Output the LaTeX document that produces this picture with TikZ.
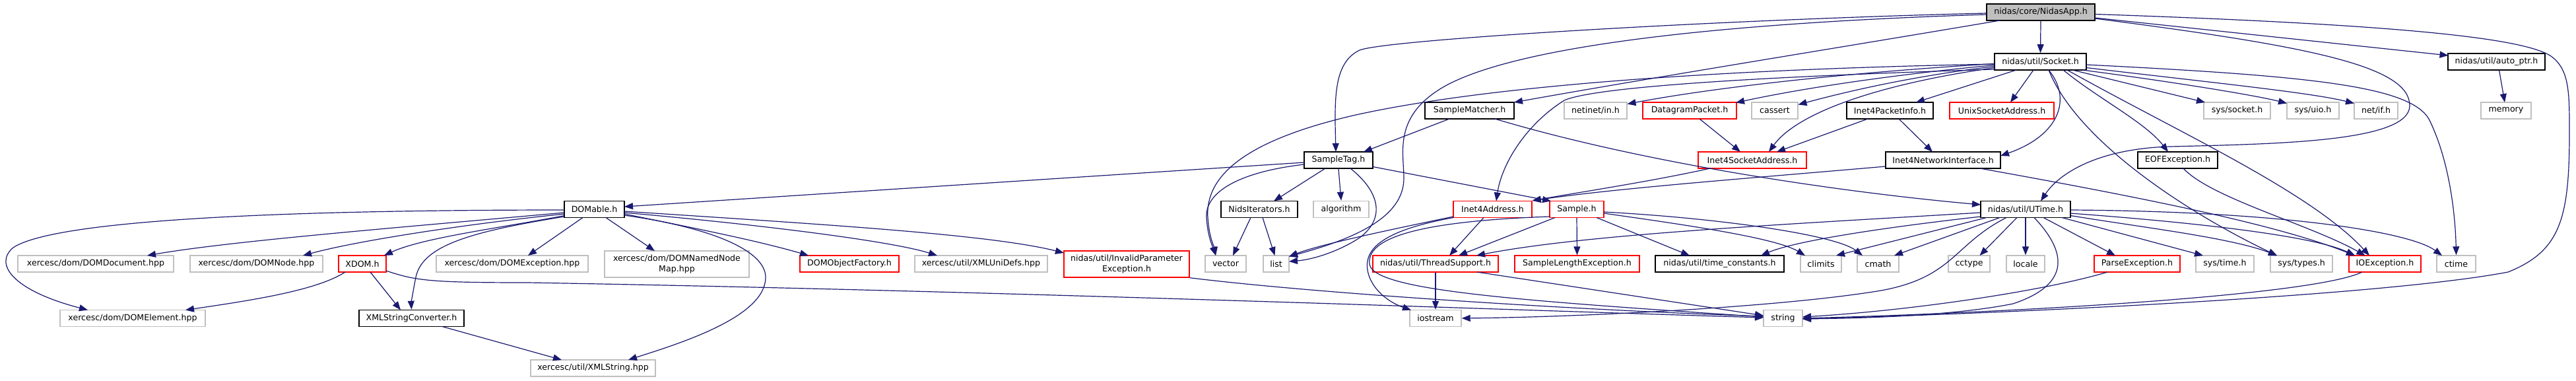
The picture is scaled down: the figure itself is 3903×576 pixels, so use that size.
\documentclass[tikz,border=0pt]{standalone}
\usepackage{fontspec}
\setmainfont{DejaVu Sans}
\usetikzlibrary{arrows.meta,calc}
\definecolor{edgec}{HTML}{191970}
\definecolor{grayb}{HTML}{BFBFBF}
\begin{document}
\begin{tikzpicture}[x=1pt,y=-1pt,
  box/.style={rectangle,inner sep=0pt,minimum height=25pt,fill=white,text=black,font=\fontsize{12.6}{14}\selectfont},
  doc/.style={box,draw=black,line width=1.6pt},
  ext/.style={box,draw=grayb,line width=1.4pt},
  trunc/.style={box,draw=red,line width=1.4pt},
  rootbox/.style={box,draw=black,fill=grayb,line width=1.6pt},
  tall/.style={minimum height=40pt,align=center,font=\fontsize{12.6}{15.5}\selectfont},
  e/.style={draw=edgec,line width=1.2pt,-{Triangle[length=13pt,width=10pt]}}]
\fill[white] (0,0) rectangle (3903,576);
\useasboundingbox (0,0) rectangle (3903,576);
% row 0
\node[rootbox,minimum width=164pt] (root) at (3092,18.5) {nidas/core/NidasApp.h};
% row 1
\node[doc,minimum width=139pt] (socket) at (3091.5,93.5) {nidas/util/Socket.h};
\node[doc,minimum width=147pt] (autoptr) at (3782.5,93.5) {nidas/util/auto\_ptr.h};
% row 2
\node[doc,minimum width=135pt] (matcher) at (2226.5,167.5) {SampleMatcher.h};
\node[ext,minimum width=95pt] (netinet) at (2417.5,167.5) {netinet/in.h};
\node[trunc,minimum width=142pt] (datagram) at (2560,167.5) {DatagramPacket.h};
\node[ext,minimum width=70pt] (cassert) at (2689,167.5) {cassert};
\node[doc,minimum width=131pt] (pktinfo) at (2863.5,167.5) {Inet4PacketInfo.h};
\node[trunc,minimum width=158pt] (unixsock) at (3033,167.5) {UnixSocketAddress.h};
\node[ext,minimum width=101pt] (syssocket) at (3389.5,167.5) {sys/socket.h};
\node[ext,minimum width=79pt] (sysuio) at (3504.5,167.5) {sys/uio.h};
\node[ext,minimum width=66pt] (netif) at (3600,167.5) {net/if.h};
\node[ext,minimum width=76pt] (memory) at (3797,167.5) {memory};
% row 3
\node[doc,minimum width=104pt] (sampletag) at (2028,242.5) {SampleTag.h};
\node[trunc,minimum width=164pt] (i4sock) at (2655,242.5) {Inet4SocketAddress.h};
\node[doc,minimum width=174pt] (i4ni) at (2944,242.5) {Inet4NetworkInterface.h};
\node[doc,minimum width=121pt] (eofex) at (3299.5,242.5) {EOFException.h};
% row 4
\node[doc,minimum width=91pt] (domable) at (900.5,317) {DOMable.h};
\node[doc,minimum width=116pt] (niter) at (1908,317) {NidsIterators.h};
\node[ext,minimum width=84pt] (algorithm) at (2032,317) {algorithm};
\node[trunc,minimum width=119pt] (i4addr) at (2261.5,317) {Inet4Address.h};
\node[trunc,minimum width=82pt] (sample) at (2389,317) {Sample.h};
\node[doc,minimum width=136pt] (utime) at (3069,317) {nidas/util/UTime.h};
% row 5
\node[ext,minimum width=236pt] (domdoc) at (145,399.5) {xercesc/dom/DOMDocument.hpp};
\node[ext,minimum width=201pt] (domnode) at (388.5,399.5) {xercesc/dom/DOMNode.hpp};
\node[trunc,minimum width=72pt] (xdom) at (549,399.5) {XDOM.h};
\node[ext,minimum width=230pt] (domexc) at (776,399.5) {xercesc/dom/DOMException.hpp};
\node[ext,tall,minimum width=219pt] (domnnm) at (1025.5,400) {xercesc/dom/DOMNamedNode\\Map.hpp};
\node[trunc,minimum width=150pt] (domof) at (1287,399.5) {DOMObjectFactory.h};
\node[ext,minimum width=201pt] (xmluni) at (1486.5,399.5) {xercesc/util/XMLUniDefs.hpp};
\node[trunc,tall,minimum width=190pt] (invparam) at (1707,400) {nidas/util/InvalidParameter\\Exception.h};
\node[ext,minimum width=62pt] (vector) at (1857,399.5) {vector};
\node[ext,minimum width=39pt] (list) at (1933.5,399.5) {list};
\node[trunc,minimum width=190pt] (threadsup) at (2175,399.5) {nidas/util/ThreadSupport.h};
\node[trunc,minimum width=189pt] (samplelen) at (2389.5,399.5) {SampleLengthException.h};
\node[doc,minimum width=195pt] (timeconst) at (2605.5,399.5) {nidas/util/time\_constants.h};
\node[ext,minimum width=62pt] (climits) at (2759,399.5) {climits};
\node[ext,minimum width=63pt] (cmath) at (2845.5,399.5) {cmath};
\node[ext,minimum width=63pt] (cctype) at (2983.5,399.5) {cctype};
\node[ext,minimum width=58pt] (locale) at (3069,399.5) {locale};
\node[trunc,minimum width=130pt] (parseex) at (3238,399.5) {ParseException.h};
\node[ext,minimum width=88pt] (systime) at (3371,399.5) {sys/time.h};
\node[ext,minimum width=94pt] (systypes) at (3487,399.5) {sys/types.h};
\node[trunc,minimum width=109pt] (ioex) at (3613.5,399.5) {IOException.h};
\node[ext,minimum width=59pt] (ctime) at (3721.5,399.5) {ctime};
% row 6
\node[ext,minimum width=220pt] (domelem) at (201,482) {xercesc/dom/DOMElement.hpp};
\node[doc,minimum width=159pt] (xmlsc) at (623.5,482) {XMLStringConverter.h};
\node[ext,minimum width=78pt] (iostream) at (2175,482) {iostream};
\node[ext,minimum width=59pt] (string) at (2701.5,482) {string};
% row 7
\node[ext,minimum width=189pt] (xmlstring) at (898.5,557.5) {xercesc/util/XMLString.hpp};

% ---- edges from NidasApp
\draw[e] (root.south) -- (socket.north);
\draw[e] ($(root)+(82,8.5)$) -- ($(autoptr)+(-73,-9.5)$);
\draw[e] ($(root)+(82,3)$) .. controls (3600,36) and (3820,55) .. (3865,85) .. controls (3893,105) and (3893,140) .. (3893,200) .. controls (3893,330) and (3880,380) .. (3800,412) .. controls (3600,450) and (3000,476) .. ($(string)+(29.5,1)$);
\draw[e] ($(root)+(82,9.5)$) .. controls (3500,70) and (3651,100) .. (3651,160) .. controls (3651,215) and (3450,218) .. (3288,222) .. controls (3180,225) and (3120,262) .. ($(utime)+(23,-12.5)$);
\draw[e] ($(root)+(-82,1.5)$) .. controls (2600,30) and (2100,60) .. (2060,76) .. controls (2020,95) and (2022,150) .. ($(sampletag)+(-4,-12.5)$);
\draw[e] ($(root)+(-82,3.5)$) .. controls (2600,35) and (2300,70) .. (2190,130) .. controls (2110,175) and (2127,230) .. (2127,270) .. controls (2127,330) and (2050,362) .. ($(list)+(19.5,-11)$);
\draw[e] ($(root)+(-62,12.5)$) .. controls (2800,70) and (2500,118) .. ($(matcher)+(67.5,-12.5)$);
% ---- edges from Socket
\draw[e] ($(socket)+(-69.5,3)$) .. controls (2800,110) and (2600,132) .. ($(netinet)+(48,-10)$);
\draw[e] ($(socket)+(-69.5,5)$) .. controls (2850,115) and (2720,136) .. ($(datagram)+(70,-12)$);
\draw[e] ($(socket)+(-69.5,7)$) .. controls (2900,115) and (2800,138) .. ($(cassert)+(35.5,-9)$);
\draw[e] ($(socket)+(-69.5,9)$) .. controls (2830,130) and (2720,175) .. ($(i4sock)+(25,-12.5)$);
\draw[e] ($(socket)+(-36.5,12.5)$) -- ($(pktinfo)+(39.5,-12.5)$);
\draw[e] ($(socket)+(-10.5,12.5)$) -- ($(unixsock)+(13,-12.5)$);
\draw[e] ($(socket)+(12.5,12.5)$) .. controls (3140,150) and (3120,205) .. ($(i4ni)+(87,-6.5)$);
\draw[e] ($(socket)+(48.5,12.5)$) -- ($(syssocket)+(-48.5,-12.5)$);
\draw[e] ($(socket)+(63.5,12.5)$) .. controls (3300,125) and (3420,145) .. ($(sysuio)+(-39.5,-11)$);
\draw[e] ($(socket)+(69.5,9)$) .. controls (3350,125) and (3500,140) .. ($(netif)+(-33,-11)$);
\draw[e] ($(socket)+(34.5,12.5)$) .. controls (3180,150) and (3250,185) .. ($(eofex)+(-14.5,-12.5)$);
\draw[e] ($(socket)+(69.5,4.5)$) .. controls (3500,115) and (3650,130) .. (3680,180) .. controls (3710,240) and (3720,320) .. (ctime.north);
\draw[e] ($(socket)+(12.5,12.5)$) .. controls (3150,220) and (3330,330) .. ($(systypes)+(-37,-12.5)$);
\draw[e] ($(socket)+(40.5,12.5)$) .. controls (3300,200) and (3500,290) .. ($(ioex)+(-23.5,-12.5)$);
\draw[e] ($(socket)+(-69.5,3.5)$) .. controls (2600,105) and (2250,130) .. (2050,175) .. controls (1900,210) and (1825,260) .. (1830,330) .. controls (1832,360) and (1840,375) .. ($(vector)+(-15,-12.5)$);
\draw[e] ($(socket)+(-69.5,11.5)$) .. controls (2700,115) and (2420,130) .. (2370,152) .. controls (2310,190) and (2275,250) .. ($(i4addr)+(5.5,-12.5)$);
% ---- SampleMatcher
\draw[e] ($(matcher)+(-30.5,12.5)$) -- ($(sampletag)+(38,-12.5)$);
\draw[e] ($(matcher)+(38.5,12.5)$) .. controls (2500,250) and (2800,292) .. ($(utime)+(-68,-7)$);
% ---- SampleTag
\draw[e] ($(sampletag)+(-52,3.5)$) -- ($(domable)+(45.5,-4)$);
\draw[e] ($(sampletag)+(-52,6.5)$) .. controls (1880,260) and (1825,290) .. (1828,330) .. controls (1830,360) and (1838,375) .. ($(vector)+(-15,-12.5)$);
\draw[e] ($(sampletag)+(18,12.5)$) .. controls (2090,290) and (2100,330) .. (2060,360) .. controls (2030,380) and (1990,393) .. ($(list)+(19.5,-3.5)$);
\draw[e] ($(sampletag)+(-20,12.5)$) -- ($(niter)+(22,-12.5)$);
\draw[e] (sampletag.south) -- (algorithm.north);
\draw[e] ($(sampletag)+(52,10)$) -- ($(sample)+(-39,-12.5)$);
% ---- NidsIterators
\draw[e] ($(niter)+(-13,12.5)$) -- ($(vector)+(11,-12.5)$);
\draw[e] ($(niter)+(5,12.5)$) -- ($(list)+(-2,-12.5)$);
% ---- DOMable
\draw[e] ($(domable)+(-45.5,5)$) .. controls (600,345) and (350,365) .. ($(domdoc)+(78,-12.5)$);
\draw[e] ($(domable)+(-45.5,7)$) .. controls (700,340) and (540,365) .. ($(domnode)+(70.5,-12.5)$);
\draw[e] ($(domable)+(-45.5,9.5)$) .. controls (760,345) and (640,360) .. ($(xdom)+(33,-12.5)$);
\draw[e] ($(domable)+(-45.5,1)$) .. controls (400,318) and (80,335) .. (20,375) .. controls (-10,400) and (20,440) .. ($(domelem)+(-68,-12.5)$);
\draw[e] ($(domable)+(-45.5,11)$) .. controls (720,350) and (640,370) .. (630,420) .. controls (625,445) and (623,460) .. (xmlsc.north);
\draw[e] ($(domable)+(-17.5,12.5)$) -- ($(domexc)+(24,-12.5)$);
\draw[e] ($(domable)+(17.5,12.5)$) -- ($(domnnm)+(-33.5,-20)$);
\draw[e] ($(domable)+(45.5,7)$) .. controls (1050,345) and (1150,365) .. ($(domof)+(-62,-12.5)$);
\draw[e] ($(domable)+(45.5,5)$) .. controls (1150,340) and (1350,365) .. ($(xmluni)+(-66.5,-12.5)$);
\draw[e] ($(domable)+(45.5,3)$) .. controls (1250,340) and (1500,355) .. ($(invparam)+(-95,-17)$);
\draw[e] ($(domable)+(45.5,9)$) .. controls (1080,345) and (1160,380) .. (1160,420) .. controls (1160,480) and (1030,520) .. ($(xmlstring)+(53.5,-12.5)$);
% ---- XDOM
\draw[e] ($(xdom)+(-26,12.5)$) .. controls (480,440) and (380,455) .. ($(domelem)+(80,-12.5)$);
\draw[e] ($(xdom)+(12,12.5)$) -- ($(xmlsc)+(-16.5,-12.5)$);
\draw[e] ($(xdom)+(36,10.5)$) .. controls (630,425) and (650,428) .. (800,428) .. controls (1500,440) and (2300,470) .. ($(string)+(-29.5,-1)$);
% ---- others
\draw[e] (invparam.south east) .. controls (2000,445) and (2400,470) .. ($(string)+(-29.5,-3)$);
\draw[e] ($(xmlsc)+(46.5,12.5)$) -- ($(xmlstring)+(-47.5,-12.5)$);
\draw[e] ($(autoptr)+(4,12.5)$) -- ($(memory)+(-2,-12.5)$);
\draw[e] ($(datagram)+(15,12.5)$) -- ($(i4sock)+(-18,-12.5)$);
\draw[e] ($(pktinfo)+(-33.5,12.5)$) -- ($(i4sock)+(37,-12.5)$);
\draw[e] ($(pktinfo)+(13.5,12.5)$) -- ($(i4ni)+(-16,-12.5)$);
\draw[e] ($(i4sock)+(-64,12.5)$) .. controls (2500,275) and (2400,290) .. (i4addr.north east);
\draw[e] ($(i4ni)+(-87,9.5)$) .. controls (2650,270) and (2450,285) .. (i4addr.north east);
\draw[e] ($(i4ni)+(56,12.5)$) .. controls (3250,300) and (3450,340) .. ($(ioex)+(-45.5,-12.5)$);
\draw[e] ($(eofex)+(8.5,12.5)$) .. controls (3350,300) and (3500,340) .. ($(ioex)+(-30,-12.5)$);
% ---- Inet4Address
\draw[e] ($(i4addr)+(-13.5,12.5)$) -- ($(threadsup)+(21,-12.5)$);
\draw[e] ($(i4addr)+(-59.5,11)$) .. controls (2120,345) and (2000,370) .. ($(list)+(19.5,-11)$);
\draw[e] ($(i4addr)+(-59.5,12.5)$) .. controls (2090,350) and (2060,380) .. (2075,420) .. controls (2085,445) and (2110,460) .. ($(iostream)+(-37,-12.5)$);
% ---- Sample
\draw[e] ($(sample)+(-41,11)$) .. controls (2150,335) and (2070,360) .. (2075,400) .. controls (2080,440) and (2300,455) .. ($(string)+(-29.5,-2)$);
\draw[e] ($(sample)+(-33,12.5)$) -- ($(threadsup)+(35,-12.5)$);
\draw[e] (sample.south) -- (samplelen.north);
\draw[e] ($(sample)+(30,12.5)$) -- ($(timeconst)+(-45.5,-12.5)$);
\draw[e] ($(sample)+(41,6)$) .. controls (2550,340) and (2690,360) .. ($(climits)+(-24,-12.5)$);
\draw[e] ($(sample)+(41,4)$) .. controls (2600,330) and (2780,355) .. ($(cmath)+(-23.5,-12.5)$);
% ---- ThreadSupport
\draw[e] (threadsup.south) -- (iostream.north);
\draw[e] ($(threadsup)+(63,12.5)$) -- ($(string)+(-29.5,-4)$);
% ---- UTime
\draw[e] ($(utime)+(-68,5)$) .. controls (2700,340) and (2400,355) .. ($(threadsup)+(62,-12.5)$);
\draw[e] ($(utime)+(-68,11)$) .. controls (2850,345) and (2720,365) .. ($(timeconst)+(62.5,-12.5)$);
\draw[e] ($(utime)+(-59,12.5)$) -- ($(climits)+(23,-12.5)$);
\draw[e] ($(utime)+(-39,12.5)$) -- ($(cmath)+(24.5,-12.5)$);
\draw[e] ($(utime)+(-29,12.5)$) .. controls (2960,370) and (2960,420) .. (2850,440) .. controls (2700,465) and (2400,480) .. (iostream.east);
\draw[e] ($(utime)+(-13,12.5)$) -- ($(cctype)+(16,-12.5)$);
\draw[e] (utime.south) -- (locale.north);
\draw[e] ($(utime)+(27,12.5)$) -- ($(parseex)+(-33,-12.5)$);
\draw[e] ($(utime)+(55,12.5)$) -- ($(systime)+(-33,-12.5)$);
\draw[e] ($(utime)+(68,9.5)$) .. controls (3250,345) and (3380,360) .. ($(systypes)+(-37,-12.5)$);
\draw[e] ($(utime)+(68,6)$) .. controls (3300,335) and (3500,355) .. ($(ioex)+(-45.5,-12.5)$);
\draw[e] ($(utime)+(68,1)$) .. controls (3450,320) and (3650,350) .. ($(ctime)+(-21.5,-12.5)$);
\draw[e] ($(utime)+(13,12.5)$) .. controls (3130,380) and (3140,430) .. (3050,460) .. controls (2950,480) and (2800,482) .. ($(string)+(29.5,1)$);
% ---- ParseException, IOException
\draw[e] ($(parseex)+(-45,12.5)$) .. controls (3100,440) and (2900,470) .. ($(string)+(29.5,-2)$);
\draw[e] ($(ioex)+(-34.5,12.5)$) .. controls (3500,450) and (3000,475) .. ($(string)+(29.5,0)$);
\end{tikzpicture}
\end{document}
